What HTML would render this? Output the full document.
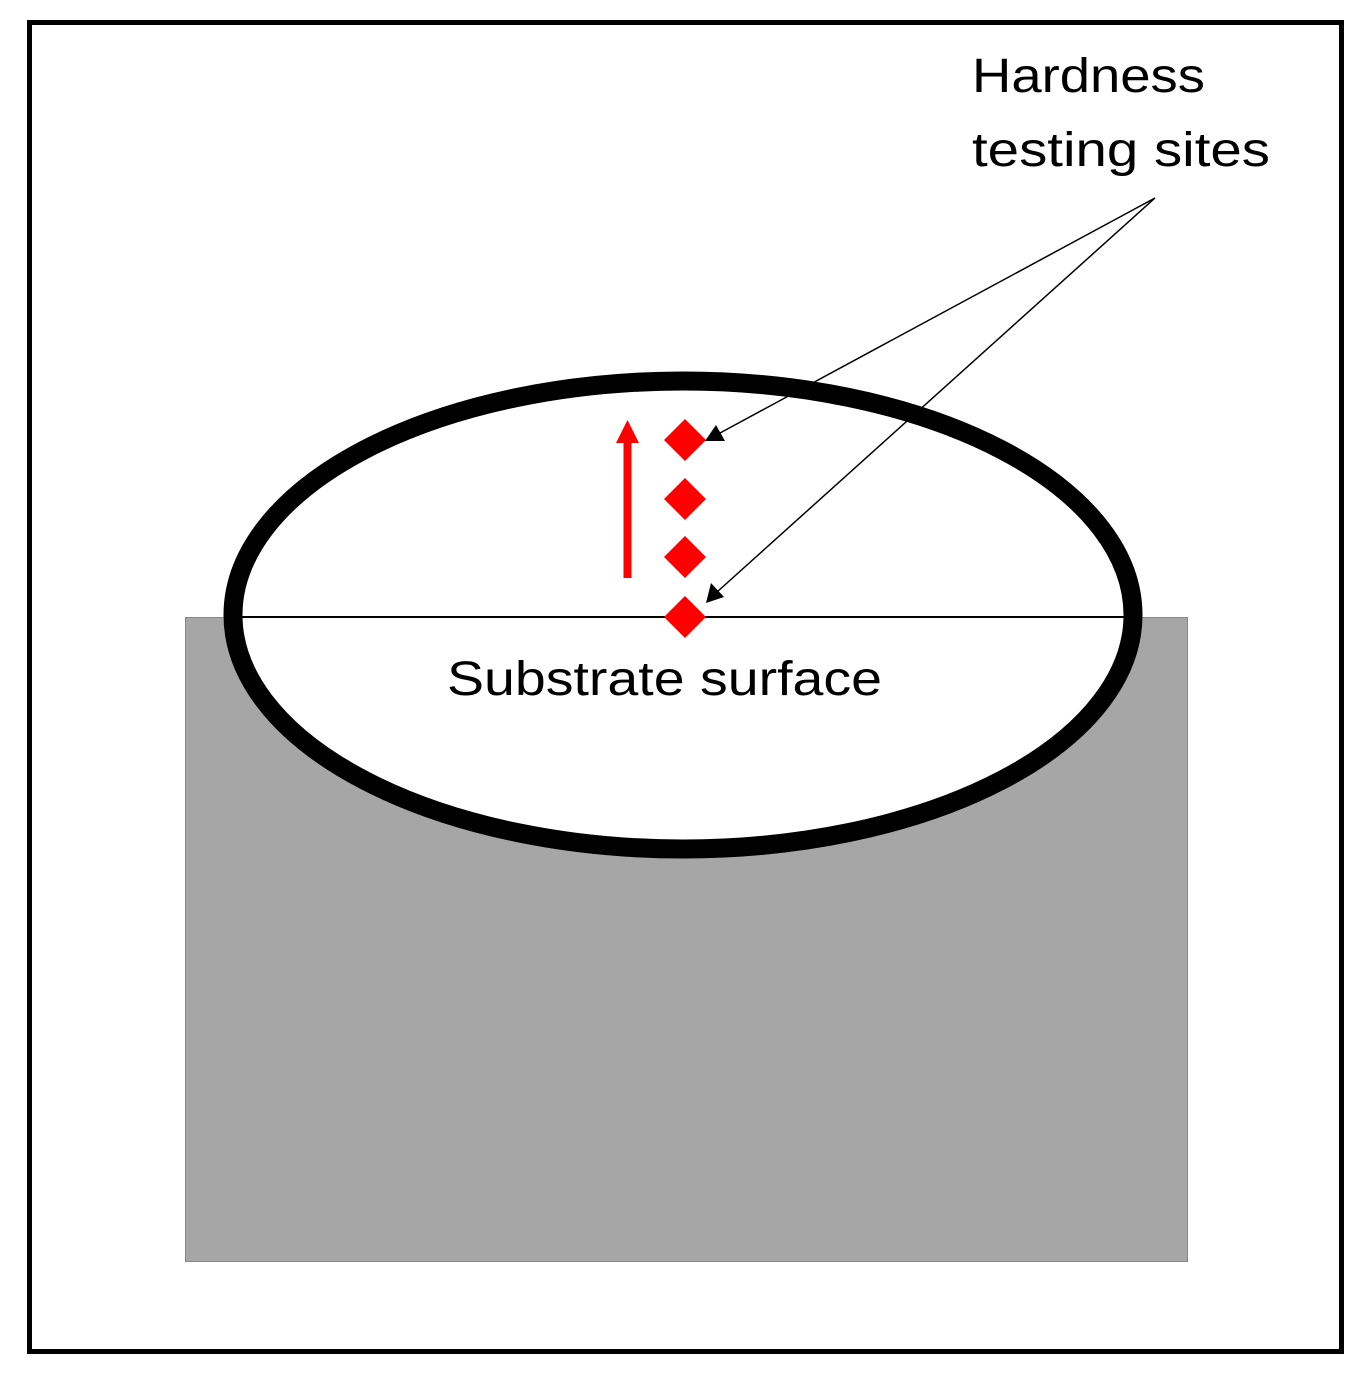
<!DOCTYPE html>
<html><head><style>html,body{margin:0;padding:0;background:#fff}svg{display:block}</style></head>
<body>
<svg width="1365" height="1378" viewBox="0 0 1365 1378" xmlns="http://www.w3.org/2000/svg">
<rect x="29.5" y="22.5" width="1312" height="1329" fill="#fff" stroke="#000" stroke-width="5"/>
<rect x="185.5" y="617.5" width="1002" height="644" fill="#a6a6a6" stroke="#888" stroke-width="1"/>
<ellipse cx="683" cy="615" rx="450" ry="234" fill="#fff" stroke="#000" stroke-width="19"/>
<line x1="240" y1="617" x2="1126" y2="617" stroke="#000" stroke-width="2"/>
<g fill="#f00">
<polygon points="685,419 706,440 685,461 664,440"/>
<polygon points="685,478 706,499 685,520 664,499"/>
<polygon points="685,536 706,557 685,578 664,557"/>
<polygon points="685,596 706,617 685,638 664,617"/>
<rect x="623.5" y="440" width="8" height="138"/>
<polygon points="627.5,420 616,443 639,443"/>
</g>
<g stroke="#000" stroke-width="1.5" fill="none">
<line x1="1155" y1="198" x2="720" y2="433"/>
<line x1="1155" y1="198" x2="717" y2="592"/>
</g>
<g fill="#000">
<polygon points="705,441 716,425 725,441"/>
<polygon points="706,603 711,583 724,597"/>
</g>
<g font-family="'Liberation Sans', sans-serif" font-size="48" fill="#000">
<text x="972" y="92" textLength="233" lengthAdjust="spacingAndGlyphs">Hardness</text>
<text x="972" y="166" textLength="298" lengthAdjust="spacingAndGlyphs">testing sites</text>
<text x="447" y="695" textLength="435" lengthAdjust="spacingAndGlyphs">Substrate surface</text>
</g>
</svg>
</body></html>
